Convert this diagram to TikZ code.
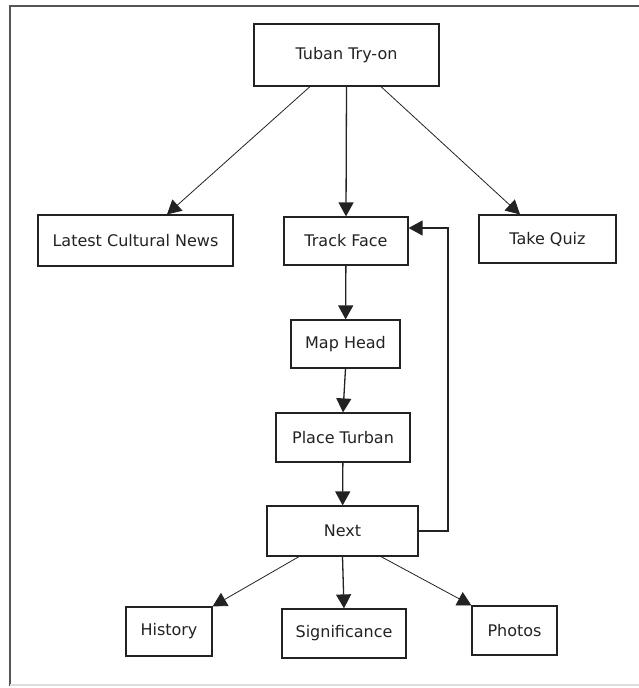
\documentclass[tikz,border=0pt]{standalone}
\usepackage{fontspec}
\setmainfont{DejaVu Sans}
\usetikzlibrary{arrows.meta}
\definecolor{inkGray}{HTML}{222222}
\definecolor{frameGray}{HTML}{555555}
\definecolor{paleGray}{HTML}{DDDDDD}
\newcommand{\flowBox}[6]{%%
  \node[boxStyle,minimum width=#4pt,minimum height=#5pt] (#1) at (#2,#3) {#6};
}
\newcommand{\outerFrame}{%%
  %% The window frame on the left and on top.
  \draw[frameStyle] (10,686) -- (10,6) -- (640,6);
  %% A faint line at the bottom.
  \draw[paleGray,line width=1.2pt] (10,685) -- (640,685);
}
\begin{document}
\begin{tikzpicture}[%%
  x=1pt,y=-1pt,
  boxStyle/.style={draw=inkGray,line width=1.2pt,inner sep=0pt,text=inkGray,font=\fontsize{16}{19}\selectfont},%%
  arrowStyle/.style={-{Triangle[length=14pt,width=15pt]},inkGray,line width=0.8pt},%%
  stemStyle/.style={arrowStyle,line width=1.3pt},%%
  frameStyle/.style={frameGray,line width=1.6pt}
]
\useasboundingbox (0,0) rectangle (638,688);
\outerFrame
%%
%% Boxes, from top to bottom.
\flowBox{tryon}{346.5}{55}{185}{62}{Tuban Try-on}
\flowBox{news}{135.5}{240.5}{195}{51}{Latest Cultural News}
\flowBox{face}{346}{241}{124}{48}{Track Face}
\flowBox{quiz}{547.5}{239}{137}{48}{Take Quiz}
\flowBox{head}{345.5}{344}{109}{48}{Map Head}
\flowBox{place}{343}{437.5}{134}{49}{Place Turban}
\flowBox{next}{342.5}{531}{151}{50}{Next}
\flowBox{history}{169}{631.5}{86}{49}{History}
\flowBox{signif}{344}{633.5}{124}{49}{Significance}
\flowBox{photos}{514.5}{630.5}{85}{49}{Photos}
\coordinate (loopx) at (448,0);
%%
%% Arrows out of the top box.
\draw[arrowStyle] ([xshift=-36.5pt]tryon.south) -- ([xshift=31.5pt]news.north);
\draw[stemStyle] (tryon.south) -- (face.north);
\draw[arrowStyle] ([xshift=34.5pt]tryon.south) -- ([xshift=-27.5pt]quiz.north);
%% The chain in the middle.
\draw[stemStyle] (face) -- (head);
\draw[stemStyle] (head.south) -- (place.north);
\draw[stemStyle] (place) -- (next);
%% Back to the face tracking.
\draw[stemStyle] (next.east) -- (next.east -| loopx) |- ([yshift=13pt]face.east);
%% Arrows out of the next box.
\draw[arrowStyle] ([xshift=-43.5pt]next.south) -- (history.north east);
\draw[stemStyle] (next.south) -- (signif.north);
\draw[arrowStyle] ([xshift=38.5pt]next.south) -- (photos.north west);
\end{tikzpicture}
\end{document}
